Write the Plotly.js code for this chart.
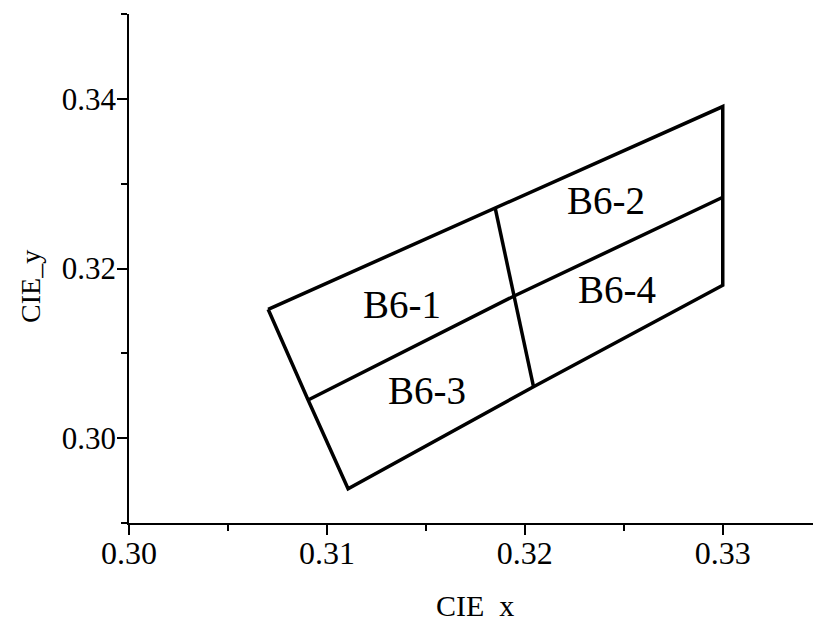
<!DOCTYPE html>
<html>
<head>
<meta charset="utf-8">
<script src="https://cdn.plot.ly/plotly-3.0.1.min.js"></script>
<style>html,body{margin:0;padding:0;background:#fff;}#chart{width:813px;height:623px;}</style>
</head>
<body>
<div id="chart"></div>
<script>
// Bin boundary vertices (CIE x, CIE y)
const outerX = [0.30703, 0.31850, 0.33000, 0.33000, 0.33000, 0.32044, 0.31107, 0.30905, 0.30703];
const outerY = [0.31519, 0.32715, 0.33909, 0.32840, 0.31802, 0.30606, 0.29403, 0.30450, 0.31519];
const midHX = [0.30905, 0.31946, 0.33000];
const midHY = [0.30450, 0.31676, 0.32840];
const midVX = [0.31850, 0.31946, 0.32044];
const midVY = [0.32715, 0.31676, 0.30606];

// Bin labels and their positions
const binNames = ["B6-1", "B6-2", "B6-3", "B6-4"];
const binLabelX = [0.31381, 0.32411, 0.31506, 0.32466];
const binLabelY = [0.31578, 0.32801, 0.30559, 0.31755];

const xTickVals = [0.30, 0.31, 0.32, 0.33];
const yTickVals = [0.30, 0.32, 0.34];

const FONT = "Liberation Serif, Times New Roman, serif";
const lineStyle = {color: "#000", width: 3.5};

const traces = [
  {x: outerX, y: outerY, mode: "lines", line: lineStyle, hoverinfo: "skip"},
  {x: midHX, y: midHY, mode: "lines", line: lineStyle, hoverinfo: "skip"},
  {x: midVX, y: midVY, mode: "lines", line: lineStyle, hoverinfo: "skip"},
  // invisible carrier so the label-only overlay axes are drawn
  {x: [outerX[0]], y: [outerY[0]], xaxis: "x2", yaxis: "y2", mode: "markers",
   marker: {opacity: 0}, hoverinfo: "skip"}
];

const annotations = binNames.map((t, i) => ({
  x: binLabelX[i], y: binLabelY[i], xref: "x", yref: "y",
  text: t, showarrow: false, xanchor: "center", yanchor: "middle",
  font: {family: FONT, size: 39, color: "#000"}
}));
annotations.push({
  xref: "paper", yref: "paper", x: -0.1439, y: 0.465,
  text: "CIE_y", textangle: -90, showarrow: false,
  xanchor: "center", yanchor: "middle",
  font: {family: FONT, size: 28, color: "#000"}
});
annotations.push({
  xref: "paper", yref: "paper", x: 0.5058, y: -0.1975,
  text: "CIE\u00a0\u00a0x", showarrow: false,
  xanchor: "center", yanchor: "bottom",
  font: {family: FONT, size: 30, color: "#000"}
});

const X_RANGE = [0.30, 0.33456];
const Y_RANGE = [0.29, 0.35];

const layout = {
  width: 813, height: 623,
  margin: {l: 129, r: 0, t: 14, b: 100},
  paper_bgcolor: "#fff", plot_bgcolor: "#fff",
  showlegend: false,
  font: {family: FONT, color: "#000"},
  xaxis: {
    range: X_RANGE, showgrid: false, zeroline: false,
    showline: true, linecolor: "#000", linewidth: 2,
    ticks: "outside", ticklen: 10, tickwidth: 2, tickcolor: "#000",
    tickvals: xTickVals, showticklabels: false,
    minor: {dtick: 0.005, tick0: 0.30, ticks: "outside", ticklen: 6, tickwidth: 2, tickcolor: "#000", showgrid: false}
  },
  yaxis: {
    range: Y_RANGE, showgrid: false, zeroline: false,
    showline: true, linecolor: "#000", linewidth: 2,
    ticks: "outside", ticklen: 10, tickwidth: 2, tickcolor: "#000",
    tickvals: yTickVals, showticklabels: false,
    minor: {dtick: 0.01, tick0: 0.29, ticks: "outside", ticklen: 6, tickwidth: 2, tickcolor: "#000", showgrid: false}
  },
  xaxis2: {
    overlaying: "x", anchor: "y", side: "bottom", range: X_RANGE,
    showgrid: false, zeroline: false, showline: false, ticks: "",
    tickvals: xTickVals, tickformat: ".2f", ticklabelstandoff: 8,
    tickfont: {family: FONT, size: 32, color: "#000"}
  },
  yaxis2: {
    overlaying: "y", anchor: "x", side: "left", range: Y_RANGE,
    showgrid: false, zeroline: false, showline: false, ticks: "",
    tickvals: yTickVals, tickformat: ".2f", ticklabelstandoff: 12,
    tickfont: {family: FONT, size: 31, color: "#000"}
  },
  annotations: annotations
};

Plotly.newPlot("chart", traces, layout, {staticPlot: true, displayModeBar: false});
</script>
</body>
</html>
